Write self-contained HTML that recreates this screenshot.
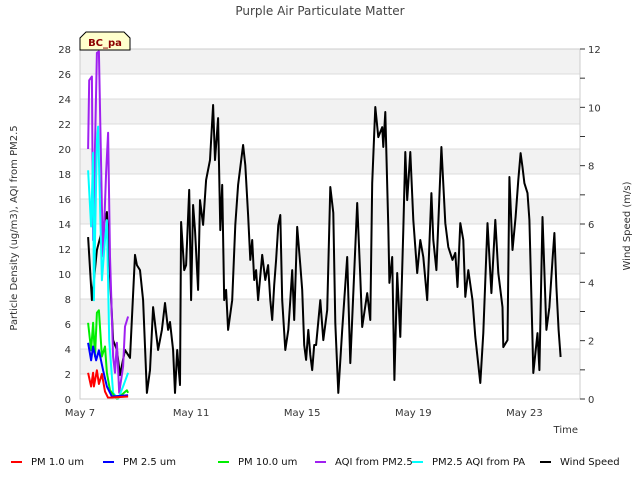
<!DOCTYPE html>
<html><head><meta charset="utf-8">
<style>
html,body{margin:0;padding:0;background:#fff;}
svg{display:block;font-family:"DejaVu Sans","Liberation Sans",sans-serif;}
</style></head>
<body>
<svg id="chart" width="640" height="480" viewBox="0 0 640 480" xmlns="http://www.w3.org/2000/svg">
<rect x="0" y="0" width="640" height="480" fill="#fff"/>
<g id="bands"></g>
<g id="grid"></g>
<g id="series"></g>
<rect x="80" y="49" width="500" height="350" fill="none" stroke="#ccc" stroke-width="1"/>
<g id="axes"></g>
<text x="320" y="15" text-anchor="middle" font-size="12" fill="#444">Purple Air Particulate Matter</text>
<text x="17" y="228" text-anchor="middle" font-size="10" fill="#333" transform="rotate(-90 17 228)">Particle Density (ug/m3), AQI from PM2.5</text>
<text x="630" y="226" text-anchor="middle" font-size="10" fill="#333" transform="rotate(-90 630 226)">Wind Speed (m/s)</text>
<text x="578" y="433" text-anchor="end" font-size="10" fill="#333">Time</text>
<g>
<path d="M80,50 L80,38 L86,32 L124,32 L130,38 L130,50 Z" fill="#ffffcc" stroke="#000" stroke-width="1"/>
<text x="105" y="46" text-anchor="middle" font-size="10" font-weight="bold" fill="#8b0000">BC_pa</text>
</g>
<g id="legend"></g>
</svg>
<script>
const NS = "http://www.w3.org/2000/svg";
// ---- data ----
const xTickLabels = ["May 7","May 11","May 15","May 19","May 23"];
const xTickDays = [0,4,8,12,16];
const leftTicks = [0,2,4,6,8,10,12,14,16,18,20,22,24,26,28];
const rightTicks = [0,2,4,6,8,10,12];
const seriesNames = ["PM 1.0 um","PM 2.5 um","PM 10.0 um","AQI from PM2.5","PM2.5 AQI from PA","Wind Speed"];
const seriesColors = ["#ff0000","#0000ff","#00ee00","#a020f0","#00ffff","#000000"];

const pm1Days = [0.29,0.40,0.47,0.50,0.61,0.68,0.79,0.90,1.01,1.73];
const pm1Vals = [2.1,1.0,2.1,1.0,2.3,1.2,2.0,0.6,0.1,0.2];
const pm25Days = [0.29,0.40,0.47,0.58,0.68,0.83,0.97,1.15,1.73];
const pm25Vals = [4.5,3.1,4.2,3.1,3.9,2.3,1.0,0.2,0.3];
const pm10Days = [0.29,0.40,0.47,0.54,0.61,0.68,0.79,0.90,0.97,1.08,1.33,1.69,1.73];
const pm10Vals = [6.1,3.9,6.1,3.4,6.9,7.1,3.4,4.2,2.1,0.7,0.0,0.7,0.5];
const aqiDays = [0.29,0.33,0.43,0.47,0.61,0.68,0.79,0.83,0.94,1.01,1.08,1.19,1.26,1.33,1.41,1.55,1.62,1.73];
const aqiVals = [20.0,25.5,25.8,12.7,27.7,27.8,15.4,11.4,18.1,21.3,11.4,3.4,2.1,4.5,0.5,2.6,5.8,6.6];
const paDays = [0.29,0.40,0.47,0.50,0.61,0.65,0.79,0.90,0.97,1.05,1.19,1.37,1.55,1.73];
const paVals = [18.3,13.8,19.7,7.9,20.7,21.8,9.5,12.7,14.3,4.7,0.5,0.0,1.0,2.1];

const windDays = [0.29,0.43,0.61,0.97,1.19,1.33,1.44,1.62,1.80,1.98,2.05,2.16,2.27,2.41,2.52,2.63,2.81,2.95,3.06,3.17,3.24,3.35,3.42,3.50,3.60,3.64,3.75,3.82,3.93,4.00,4.07,4.14,4.25,4.32,4.43,4.54,4.68,4.79,4.86,4.97,5.05,5.12,5.19,5.26,5.33,5.48,5.59,5.69,5.87,5.95,6.05,6.13,6.20,6.27,6.34,6.41,6.56,6.67,6.77,6.85,6.92,6.99,7.06,7.14,7.21,7.28,7.39,7.50,7.57,7.64,7.71,7.82,7.93,8.00,8.07,8.14,8.22,8.29,8.36,8.43,8.50,8.65,8.76,8.90,9.01,9.12,9.19,9.30,9.44,9.62,9.73,9.98,10.09,10.16,10.34,10.45,10.52,10.63,10.74,10.88,10.92,10.99,11.10,11.14,11.24,11.32,11.42,11.53,11.64,11.71,11.78,11.89,12.00,12.14,12.25,12.36,12.50,12.65,12.72,12.83,13.01,13.15,13.26,13.41,13.51,13.59,13.69,13.80,13.87,13.98,14.13,14.23,14.41,14.52,14.67,14.70,14.81,14.95,15.06,15.21,15.24,15.39,15.46,15.57,15.68,15.78,15.86,15.93,16.00,16.11,16.18,16.29,16.32,16.47,16.54,16.65,16.68,16.79,16.90,17.01,17.08,17.15,17.23,17.30];
const windVals = [5.55,3.39,5.11,6.41,2.02,1.68,0.82,1.68,1.41,4.94,4.59,4.42,3.39,0.21,0.99,3.15,1.68,2.37,3.29,2.37,2.64,1.68,0.21,1.68,0.48,6.07,4.42,4.59,7.17,3.39,6.65,5.79,3.74,6.82,5.97,7.51,8.19,10.08,8.19,9.63,5.79,7.34,3.39,3.74,2.37,3.39,5.97,7.34,8.71,8.02,6.31,4.77,5.45,4.08,4.42,3.39,4.94,4.08,4.59,3.39,2.71,3.91,4.77,5.97,6.31,3.39,1.68,2.37,3.39,4.42,2.71,5.90,4.59,3.74,1.85,1.34,2.37,1.51,0.99,1.85,1.85,3.39,2.02,3.05,7.27,6.38,2.61,0.21,2.37,4.87,1.23,6.72,4.18,2.47,3.63,2.71,7.40,10.01,8.98,9.32,8.64,9.84,5.90,3.98,4.87,0.65,4.32,2.13,5.79,8.47,6.82,8.47,6.14,4.32,5.45,4.87,3.39,7.06,5.45,4.42,8.64,6.03,5.21,4.77,5.01,3.84,6.03,5.45,3.50,4.42,3.39,2.13,0.55,2.26,6.03,5.55,3.63,6.14,4.32,3.15,1.78,2.02,7.61,5.11,6.24,7.51,8.43,7.95,7.40,7.06,6.14,2.02,0.89,2.26,0.99,6.24,5.45,2.37,3.15,4.77,5.69,3.84,2.37,1.44];

// ---- axes functions ----
const PL=80, PR=580, PT=49, PB=399;
const X_MAX_DAYS = 18;
function xScale(d){ return PL + d/X_MAX_DAYS*(PR-PL); }
function yLeft(v){ return PB - v/28*(PB-PT); }
function yRight(v){ return PB - v/12*(PB-PT); }

const bands = document.getElementById('bands');
for (let v=2; v<28; v+=4){
  const r = document.createElementNS(NS,'rect');
  r.setAttribute('x',PL); r.setAttribute('y',yLeft(v+2)); r.setAttribute('width',PR-PL); r.setAttribute('height',yLeft(v)-yLeft(v+2));
  r.setAttribute('fill','#f2f2f2');
  
  
  bands.appendChild(r);
}
const grid = document.getElementById('grid');
leftTicks.forEach(v=>{
  const l = document.createElementNS(NS,'line');
  l.setAttribute('x1',PL); l.setAttribute('x2',PR); l.setAttribute('y1',yLeft(v)); l.setAttribute('y2',yLeft(v));
  l.setAttribute('stroke','#dcdcdc'); l.setAttribute('stroke-width','1');
  
  
  grid.appendChild(l);
});
const axes = document.getElementById('axes');
leftTicks.forEach(v=>{
  const t = document.createElementNS(NS,'text');
  t.setAttribute('x',71); t.setAttribute('y',yLeft(v)+4); t.setAttribute('text-anchor','end');
  t.setAttribute('font-size','10'); t.setAttribute('fill','#333');
  t.textContent = v;
  
  
  axes.appendChild(t);
});
for (let v=0; v<=12; v++){
  const l = document.createElementNS(NS,'line');
  l.setAttribute('x1',PR); l.setAttribute('x2',PR+5); l.setAttribute('y1',yRight(v)); l.setAttribute('y2',yRight(v));
  l.setAttribute('stroke','#333'); l.setAttribute('stroke-width','1');
  
  
  axes.appendChild(l);
}
rightTicks.forEach(v=>{
  const t = document.createElementNS(NS,'text');
  t.setAttribute('x',588); t.setAttribute('y',yRight(v)+4);
  t.setAttribute('font-size','10'); t.setAttribute('fill','#333');
  t.textContent = v;
  
  
  axes.appendChild(t);
});
xTickDays.forEach((d,i)=>{
  const t = document.createElementNS(NS,'text');
  t.setAttribute('x',xScale(d)); t.setAttribute('y',416); t.setAttribute('text-anchor','middle');
  t.setAttribute('font-size','10'); t.setAttribute('fill','#333');
  t.textContent = xTickLabels[i];
  
  
  axes.appendChild(t);
});

const series = document.getElementById('series');
function drawLine(days, vals, yFn, color, name){
  const p = document.createElementNS(NS,'polyline');
  p.setAttribute('points', days.map((d,i)=>xScale(d).toFixed(1)+','+yFn(vals[i]).toFixed(1)).join(' '));
  p.setAttribute('fill','none'); p.setAttribute('stroke',color); p.setAttribute('stroke-width','2');
  p.setAttribute('stroke-linejoin','round');
  
  
  series.appendChild(p);
}
drawLine(windDays, windVals, yRight, seriesColors[5], 'wind-speed-line');
drawLine(aqiDays, aqiVals, yLeft, seriesColors[3], 'aqi-pm25-line');
drawLine(paDays, paVals, yLeft, seriesColors[4], 'pa-aqi-line');
drawLine(pm10Days, pm10Vals, yLeft, seriesColors[2], 'pm10-line');
drawLine(pm25Days, pm25Vals, yLeft, seriesColors[1], 'pm25-line');
drawLine(pm1Days, pm1Vals, yLeft, seriesColors[0], 'pm1-line');

const legend = document.getElementById('legend');
const legX = [11,103,218,315,412,540];
seriesNames.forEach((n,i)=>{
  const g = document.createElementNS(NS,'g');
  
  
  const l = document.createElementNS(NS,'line');
  l.setAttribute('x1',legX[i]); l.setAttribute('x2',legX[i]+11); l.setAttribute('y1',462); l.setAttribute('y2',462);
  l.setAttribute('stroke',seriesColors[i]); l.setAttribute('stroke-width','2');
  g.appendChild(l);
  const t = document.createElementNS(NS,'text');
  t.setAttribute('x',legX[i]+20); t.setAttribute('y',465);
  t.setAttribute('font-size','10'); t.setAttribute('fill','#111');
  t.textContent = n;
  g.appendChild(t);
  legend.appendChild(g);
});
</script>
</body></html>
